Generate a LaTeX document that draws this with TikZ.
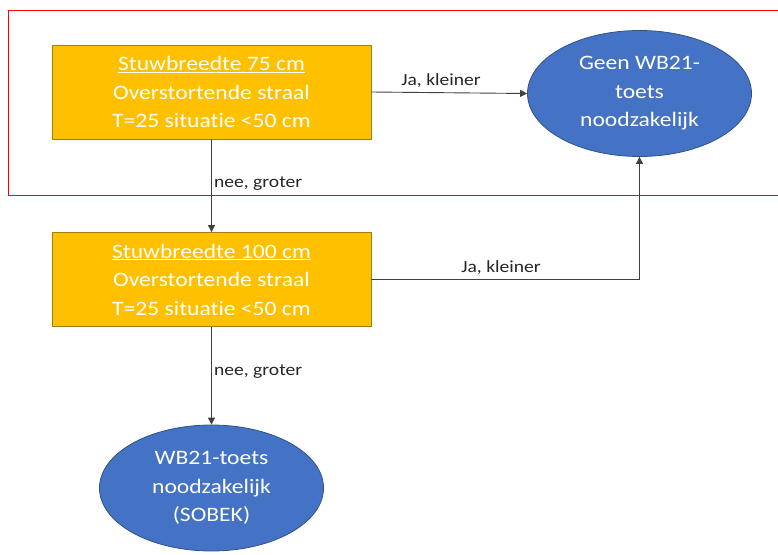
\documentclass[tikz,border=0pt]{standalone}
\usepackage{fontspec}
\setmainfont{Carlito}[FakeStretch=1.15, Ligatures={NoCommon}]
\usetikzlibrary{shapes.geometric,arrows.meta}
\definecolor{boxfill}{HTML}{FFC000}
\definecolor{boxline}{HTML}{A07E10}
\definecolor{ellfill}{HTML}{4472C4}
\definecolor{ellline}{HTML}{2F528F}
\definecolor{lbl}{HTML}{262626}
\definecolor{conn}{HTML}{404040}
\tikzset{
  decision/.style={draw=boxline, fill=boxfill, line width=0.8pt, minimum width=319pt, minimum height=94pt,
    inner sep=0pt, text=white, align=center, font=\fontsize{20.5}{28.5}\selectfont},
  outcome/.style={ellipse, draw=ellline, fill=ellfill, line width=0.8pt, minimum width=224pt, minimum height=126pt,
    inner sep=0pt, text=white, align=center, font=\fontsize{20.5}{28.5}\selectfont},
  conn/.style={draw=conn, line width=0.9pt, -{Triangle[length=7pt,width=7pt]}},
  lbl/.style={text=lbl, font=\fontsize{17}{19}\selectfont, inner sep=0pt},
}
\begin{document}
\begin{tikzpicture}[x=1pt,y=-1pt]
\useasboundingbox (0,0) rectangle (778,554);
\clip (0,0) rectangle (778,554);
\draw[red, line width=1pt] (8,10) rectangle (800,195);
\node[decision] (b1) at (211.5,92) {\underline{Stuwbreedte 75 cm}\\Overstortende straal\\T=25 situatie <50 cm};
\node[decision] (b2) at (211.5,279.5) {\underline{Stuwbreedte 100 cm}\\Overstortende straal\\T=25 situatie <50 cm};
\node[outcome] (e1) at (639.5,93.5) {Geen WB21-\\toets\\noodzakelijk};
\node[outcome] (e2) at (211.5,488) {WB21-toets\\noodzakelijk\\(SOBEK)};
\draw[conn] (b1.east) -- (e1.west);
\draw[conn] (b1.south) -- (b2.north);
\draw[conn] (b2.east) -| (e1.south);
\draw[conn] (b2.south) -- (e2.north);
\node[lbl] (l1) at (441,81) {Ja, kleiner};
\node[lbl, anchor=west] (l2) at (214,184) {nee, groter};
\node[lbl] (l3) at (501,268) {Ja, kleiner};
\node[lbl, anchor=west] (l4) at (214,372) {nee, groter};
\end{tikzpicture}
\end{document}
